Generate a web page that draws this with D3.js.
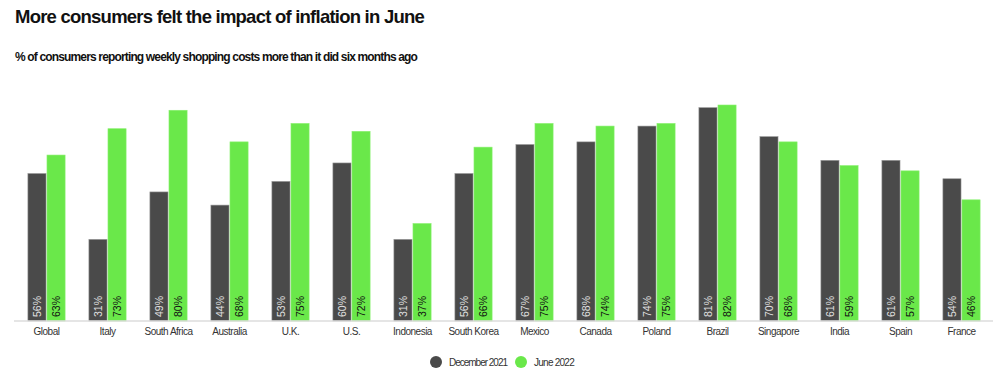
<!DOCTYPE html>
<html><head><meta charset="utf-8">
<script src="https://cdn.jsdelivr.net/npm/d3@7"></script>
<style>
body{margin:0;background:#fff;}
svg{display:block;font-family:"Liberation Sans",Arial,sans-serif;}
</style></head>
<body><svg id="c" width="1000" height="375"></svg>
<script>
const categories = ["Global","Italy","South Africa","Australia","U.K.","U.S.","Indonesia","South Korea","Mexico","Canada","Poland","Brazil","Singapore","India","Spain","France"];
const dec2021 = [56,31,49,44,53,60,31,56,67,68,74,81,70,61,61,54];
const jun2022 = [63,73,80,68,75,72,37,66,75,74,75,82,68,59,57,46];
const seriesNames = ["December 2021","June 2022"];
const colors = ["#4a4a4a","#6ae84a"];
const labelColors = ["#e0e0e0","#111"];

const svg = d3.select("#c");
function fitLS(sel, w){ const n=sel.node(); const L=n.getComputedTextLength(); const k=n.getNumberOfChars(); sel.attr("letter-spacing", (w-L)/k); }
const t1 = svg.append("text").attr("x",15).attr("y",23).attr("font-size",18.5).attr("font-weight",700).attr("fill","#111")
  .text("More consumers felt the impact of inflation in June");
fitLS(t1, 409);
const t2 = svg.append("text").attr("x",15).attr("y",61).attr("font-size",12).attr("font-weight",700).attr("fill","#111")
  .text("% of consumers reporting weekly shopping costs more than it did six months ago");
fitLS(t2, 402);

const x0 = d3.scaleBand().domain(categories).range([16,992]).paddingInner(0.39).paddingOuter(0.195);
const x1 = d3.scaleBand().domain([0,1]).range([0,x0.bandwidth()]).paddingInner(0.05);
const y = d3.scaleLinear().domain([0,82]).range([321,105]);

const data = categories.map((c,i)=>({c, v:[dec2021[i],jun2022[i]]}));
const g = svg.append("g");
const grp = g.selectAll("g.grp").data(data).join("g").attr("transform",d=>`translate(${x0(d.c)},0)`);
grp.selectAll("rect").data(d=>d.v.map((v,k)=>({v,k}))).join("rect")
  .attr("x",d=>x1(d.k)).attr("width",x1.bandwidth())
  .attr("y",d=>y(d.v)).attr("height",d=>y(0)-y(d.v))
  .attr("fill",d=>colors[d.k]).attr("stroke",d=>d.k?"#8af070":"#9a9a9a").attr("stroke-width",0.6);
grp.selectAll("text.val").data(d=>d.v.map((v,k)=>({v,k}))).join("text").attr("class","val")
  .attr("transform",d=>`translate(${x1(d.k)+x1.bandwidth()/2},317) rotate(-90)`)
  .attr("dy","0.35em").attr("font-size",10.5).attr("fill",d=>labelColors[d.k])
  .text(d=>d.v+"%");

// axis
const axis = d3.axisBottom(x0).tickSize(0).tickPadding(7);
const ax = svg.append("g").attr("transform","translate(0,321)").call(axis);
ax.select(".domain").attr("stroke","#ddd").attr("stroke-width",1.5).attr("d","M14,0H993");
ax.selectAll("text").attr("font-size",10).attr("letter-spacing",-0.5).attr("fill","#333").attr("font-family",'"Liberation Sans",Arial,sans-serif');

// legend
const leg = svg.append("g");
const lx = [436,521];
const lw = [58,40];
seriesNames.forEach((n,i)=>{
  leg.append("circle").attr("cx",lx[i]).attr("cy",362).attr("r",6).attr("fill",colors[i]);
  const t = leg.append("text").attr("x",lx[i]+13).attr("y",362).attr("dy","0.35em").attr("font-size",10).attr("fill","#333").text(n);
  fitLS(t, lw[i]);
});
</script></body></html>
